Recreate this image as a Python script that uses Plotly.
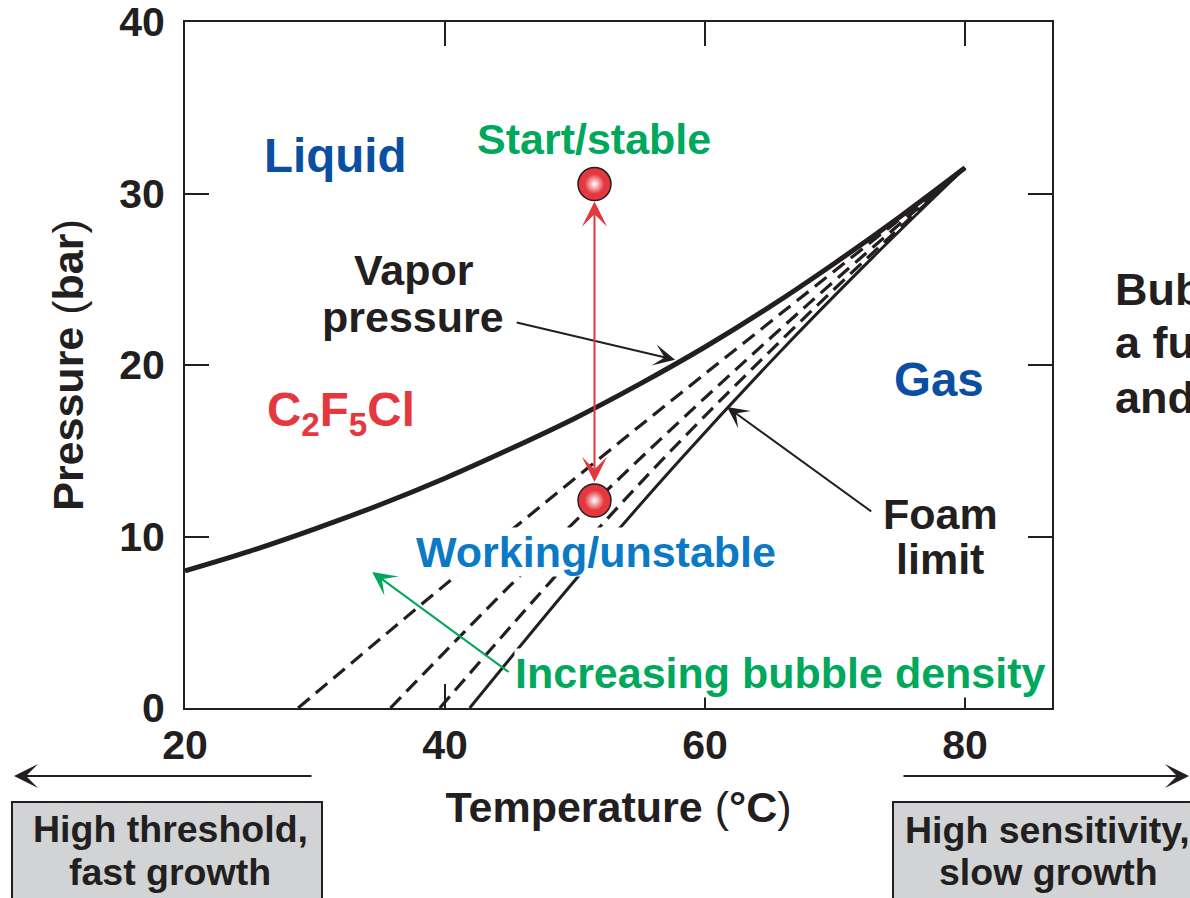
import plotly.graph_objects as go

# ---------------- data ----------------
x_ticks = [20, 40, 60, 80]
y_ticks = [0, 10, 20, 30, 40]

# vapor pressure curve of C2F5Cl (deg C, bar)
vp_T = [20, 25, 30, 35, 40, 45, 50, 55, 60, 65, 70, 75, 80]
vp_P = [8.0, 9.15, 10.45, 11.85, 13.4, 15.1, 16.9, 18.9, 21.05, 23.4, 25.95, 28.65, 31.5]

# foam limit (solid)
foam_T = [41.9, 50.0, 58.0, 66.0, 73.0, 80.0]
foam_P = [0.0, 7.45, 14.4, 20.95, 26.35, 31.5]

# constant bubble-density lines (dashed)
d1_T = [28.7, 40.0, 52.7, 66.0, 80.0]
d1_P = [0.0, 7.18, 15.05, 23.1, 31.5]
d2_T = [35.8, 45.0, 55.5, 68.0, 80.0]
d2_P = [0.0, 7.13, 14.9, 23.59, 31.5]
d3_T = [39.6, 48.0, 57.0, 68.5, 80.0]
d3_P = [0.0, 7.27, 14.7, 23.38, 31.5]

# start (stable) and working (unstable) states
state_T = [51.5, 51.5]
state_P = [30.55, 12.1]

# ---------------- styling ----------------
INK = "#231f20"
RED = "#e4373e"
BLUE = "#0b4fa2"
LBLUE = "#0b7ac6"
GREEN = "#00a85c"
GRAY = "#d1d3d4"
FONT = "Liberation Sans, Arial, Helvetica, sans-serif"

L, R, TOP, BOT = 185, 1052, 22, 708


def px(x):
    return (x - L) / (R - L)


def py(y):
    return (BOT - y) / (BOT - TOP)


fig = go.Figure()

for T, P in [(d1_T, d1_P), (d2_T, d2_P), (d3_T, d3_P)]:
    fig.add_trace(go.Scatter(
        x=T, y=P, mode="lines",
        line=dict(color=INK, width=3.2, dash="15px,8px", shape="spline", smoothing=1.0),
        hoverinfo="skip", showlegend=False))

fig.add_trace(go.Scatter(
    x=foam_T, y=foam_P, mode="lines",
    line=dict(color=INK, width=3, shape="spline", smoothing=1.0),
    hoverinfo="skip", showlegend=False))

fig.add_trace(go.Scatter(
    x=vp_T, y=vp_P, mode="lines",
    line=dict(color=INK, width=5, shape="spline", smoothing=1.0),
    hoverinfo="skip", showlegend=False))

fig.add_trace(go.Scatter(
    x=state_T, y=state_P, mode="markers",
    marker=dict(size=33, color=RED, line=dict(color=INK, width=1.5)),
    hoverinfo="skip", showlegend=False))
fig.add_trace(go.Scatter(
    x=state_T, y=state_P, mode="markers",
    marker=dict(size=20, color=RED, gradient=dict(type="radial", color="white"),
                line=dict(width=0)),
    hoverinfo="skip", showlegend=False))

ann = []


def label(text, x, y, color=INK, size=43, bg=None, xanchor="center"):
    d = dict(text=text, x=px(x), y=py(y), xref="paper", yref="paper",
             showarrow=False, xanchor=xanchor, yanchor="middle",
             font=dict(family=FONT, size=size, color=color, weight="bold"))
    if bg:
        d.update(bgcolor=bg, borderpad=0)
    ann.append(d)


label("Liquid", 335, 155, BLUE, 47.5)
label("Start/stable", 594, 139, GREEN, 43)
label("Vapor", 414, 270, INK, 43)
label("pressure", 413, 317, INK, 43)
label("C<sub>2</sub>F<sub>5</sub>Cl", 341, 413, RED, 47.5)
label("Gas", 939, 379, BLUE, 47.5)
label("Foam", 940, 514, INK, 43)
label("limit", 940, 559, INK, 43)
label("Working/unstable", 596, 552, LBLUE, 43, bg="white")
label("Increasing bubble density", 780, 673, GREEN, 43, bg="white")
label("High threshold,", 170, 829, INK, 37.5)
label("fast growth", 170, 872, INK, 37.5)
label("High sensitivity,", 1047, 830, INK, 37.5)
label("slow growth", 1048, 872, INK, 37.5)
label("Bubble formation as", 1113, 289, INK, 45, xanchor="left")
label("a function of temperature", 1113, 342, INK, 45, xanchor="left")
label("and pressure", 1113, 397, INK, 45, xanchor="left")


def arrow(x, y, ax, ay, color=INK, size=1.8, both=False):
    d = dict(text="", x=x, y=y, ax=ax, ay=ay, xref="x", yref="y",
             axref="x", ayref="y", showarrow=True, arrowhead=3,
             arrowsize=size, arrowwidth=2, arrowcolor=color, standoff=0)
    if both:
        d.update(arrowside="end+start", startarrowhead=3, startarrowsize=size,
                 startstandoff=0)
    ann.append(d)


arrow(57.7, 20.3, 45.4, 22.5)                  # vapor pressure pointer
arrow(61.7, 17.55, 72.9, 11.4)                 # foam limit pointer
arrow(34.4, 7.93, 45.0, 2.04, color=GREEN, size=2.0)   # increasing density
arrow(51.5, 13.18, 51.5, 29.62, color=RED, size=2.1, both=True)

# bottom direction arrows
ann.append(dict(text="", x=px(14), y=py(776), xref="paper", yref="paper",
                ax=313 - 14, ay=0, showarrow=True, arrowhead=3, arrowsize=2.0,
                arrowwidth=2, arrowcolor=INK, standoff=0))
ann.append(dict(text="", x=px(1191), y=py(776), xref="paper", yref="paper",
                ax=902 - 1191, ay=0, showarrow=True, arrowhead=3, arrowsize=2.0,
                arrowwidth=2, arrowcolor=INK, standoff=0))

shapes = [
    dict(type="rect", xref="paper", yref="paper", x0=px(12), x1=px(322),
         y0=py(802), y1=py(920), fillcolor=GRAY, line=dict(color=INK, width=2),
         layer="below"),
    dict(type="rect", xref="paper", yref="paper", x0=px(893), x1=px(1220),
         y0=py(802), y1=py(920), fillcolor=GRAY, line=dict(color=INK, width=2),
         layer="below"),
]

thin = "<span style='font-weight:normal'>"
fig.update_layout(
    width=1190, height=898,
    margin=dict(l=L, r=1190 - R, t=TOP, b=898 - BOT, autoexpand=False),
    paper_bgcolor="white", plot_bgcolor="white", showlegend=False,
    font=dict(family=FONT, color=INK),
    annotations=ann, shapes=shapes,
)

fig.update_xaxes(
    range=[20, 20 + (R - L) / 13.0], tickvals=x_ticks, ticks="inside",
    ticklen=24, tickwidth=2, tickcolor=INK, showline=True, linewidth=2,
    linecolor=INK, mirror="ticks", showgrid=False, zeroline=False,
    automargin=False, ticklabelstandoff=0, ticklabeloverflow="allow",
    tickfont=dict(family=FONT, size=41, color=INK, weight="bold"),
    title=dict(text="Temperature " + thin + "(</span>°C" + thin + ")</span>",
               font=dict(family=FONT, size=43, color=INK, weight="bold"),
               standoff=25),
)
fig.update_yaxes(
    range=[0, 40], tickvals=y_ticks, ticks="inside",
    ticklen=24, tickwidth=2, tickcolor=INK, showline=True, linewidth=2,
    linecolor=INK, mirror="ticks", showgrid=False, zeroline=False,
    automargin=False, ticklabelstandoff=10, ticklabeloverflow="allow",
    tickfont=dict(family=FONT, size=41, color=INK, weight="bold"),
    title=dict(text="Pressure " + thin + "(</span>bar" + thin + ")</span>",
               font=dict(family=FONT, size=43, color=INK, weight="bold"),
               standoff=22),
)

fig.write_html("out.html")
